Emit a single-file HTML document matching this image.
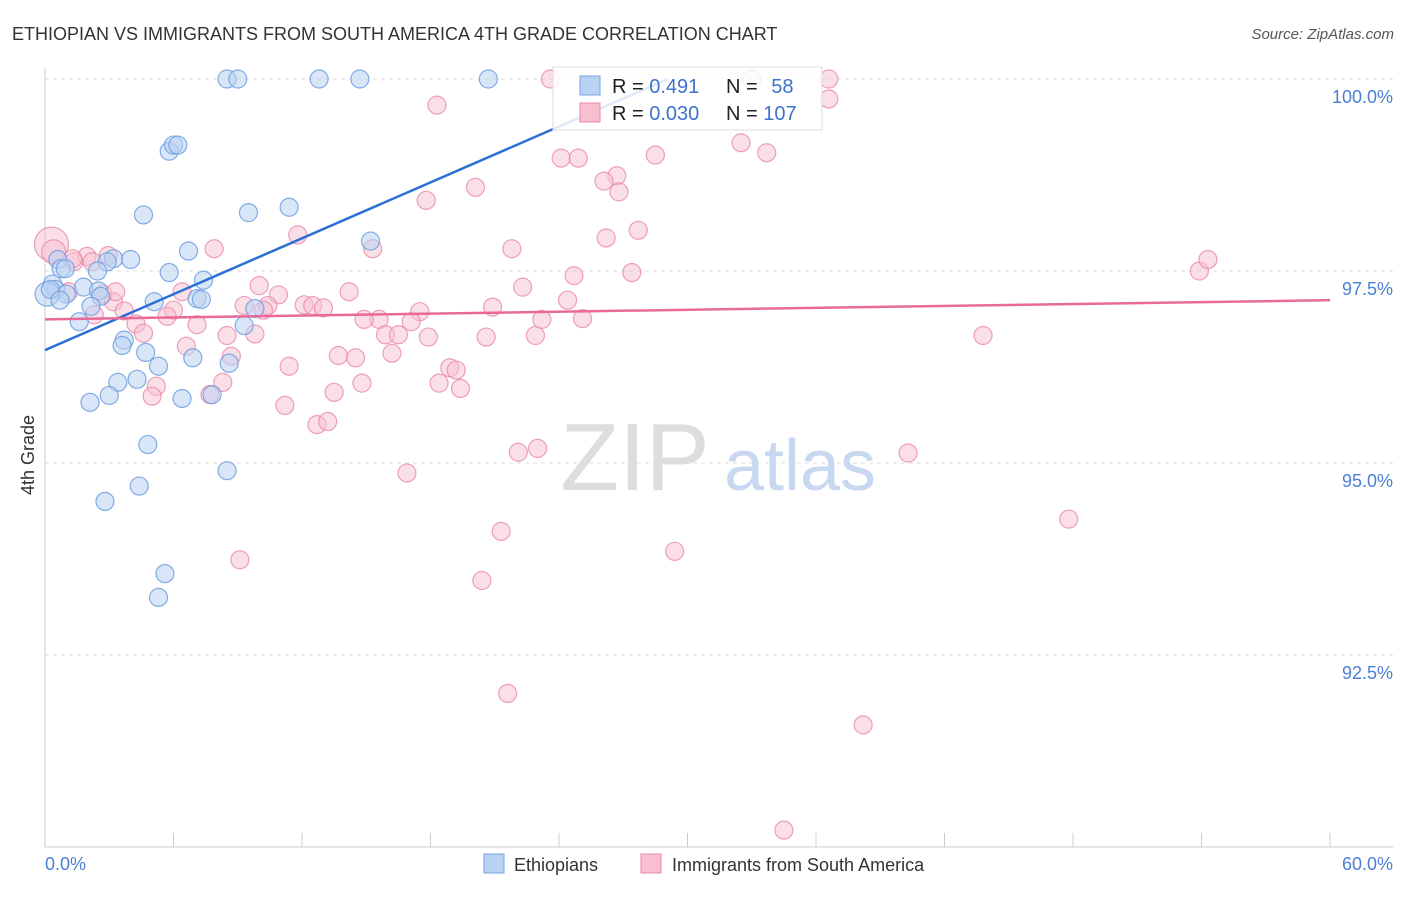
<!DOCTYPE html>
<html><head><meta charset="utf-8"><style>
body{margin:0;background:#fff;font-family:"Liberation Sans",sans-serif}
svg text{font-family:"Liberation Sans",sans-serif}
</style></head><body>
<svg id="chart" width="1406" height="892" xmlns="http://www.w3.org/2000/svg">
<text x="12" y="40" font-size="18" fill="#333">ETHIOPIAN VS IMMIGRANTS FROM SOUTH AMERICA 4TH GRADE CORRELATION CHART</text>
<text x="1394" y="39" font-size="15" fill="#555" font-style="italic" text-anchor="end">Source: ZipAtlas.com</text>
<g id="grid"></g>
<text x="635" y="490" font-size="96" fill="#ddd" font-family="Liberation Serif" text-anchor="middle">ZIP</text>
<text x="800" y="490" font-size="72" fill="#c8d8f0" text-anchor="middle">atlas</text>
<g id="pink"></g>
<g id="blue"></g>
<g id="lines"></g>
<text x="34" y="455" font-size="18" fill="#333" transform="rotate(-90 34 455)" text-anchor="middle">4th Grade</text>
<text x="45" y="870" font-size="18" fill="#4a7fd4">0.0%</text>
<text x="1393" y="870" font-size="18" fill="#4a7fd4" text-anchor="end">60.0%</text>
<g>
<rect x="553" y="67" width="269" height="63" fill="#fff" fill-opacity="0.85" stroke="#ddd"/>
<rect x="580" y="76" width="20" height="19" fill="#b9d1f3" stroke="#7aa3e0"/>
<rect x="580" y="103" width="20" height="19" fill="#f7bfd0" stroke="#e88aa8"/>
<text x="612" y="93" font-size="20" fill="#222">R = <tspan fill="#3d73cc">0.491</tspan></text>
<text x="726" y="93" font-size="20" fill="#222">N = <tspan fill="#3d73cc" dx="8">58</tspan></text>
<text x="612" y="120" font-size="20" fill="#222">R = <tspan fill="#3d73cc">0.030</tspan></text>
<text x="726" y="120" font-size="20" fill="#222">N = <tspan fill="#3d73cc">107</tspan></text>
</g>
<g>
<rect x="484" y="854" width="20" height="19" fill="#b9d1f3" stroke="#7aa3e0"/>
<text x="514" y="871" font-size="18" fill="#333">Ethiopians</text>
<rect x="641" y="854" width="20" height="19" fill="#f7bfd0" stroke="#e88aa8"/>
<text x="672" y="871" font-size="18" fill="#333">Immigrants from South America</text>
</g>
</svg>
<script>
const yTicks=[100,97.5,95,92.5];
const yTickLabels=["100.0%","97.5%","95.0%","92.5%"];
const xTicks=[0,6,12,18,24,30,36,42,48,54,60];
const blueX=[8.5,9,12.8,14.7,20.7,33,5.8,6,6.2,4.6,9.5,11.4,15.2,6.7,0.6,0.75,3.2,4,2.9,5.8,7.4,0.35,0.5,1,1.8,2.5,2.6,2.15,5.1,7.1,7.3,9.8,9.3,1.6,3.7,3.6,4.7,6.9,8.6,5.3,4.3,3.4,3.0,2.1,6.4,7.8,4.8,8.5,4.4,2.8,5.6,5.3,0.1,0.95,0.25,0.7,2.45];
const blueY=[100,100,100,100,100,100,99.06,99.14,99.14,98.23,98.26,98.33,97.89,97.76,97.65,97.53,97.66,97.65,97.62,97.48,97.38,97.33,97.26,97.2,97.29,97.24,97.17,97.04,97.1,97.14,97.13,97.01,96.79,96.84,96.6,96.53,96.44,96.37,96.3,96.26,96.09,96.05,95.88,95.79,95.84,95.89,95.24,94.9,94.7,94.5,93.56,93.25,97.2,97.53,97.26,97.12,97.5];
const pinkX=[23.6,36.6,18.3,36.6,24.1,24.9,28.5,32.5,33.7,26.7,26.1,26.8,20.1,17.8,27.7,11.8,26.2,7.9,21.8,15.3,1.96,1.35,27.4,24.7,53.9,54.3,22.3,10,14.2,6.4,10.9,3.2,2.7,2.3,10.4,9.3,12.1,12.5,13,20.9,24.4,6,5.7,7.1,3.7,4.25,4.6,10.2,9.8,8.5,17.5,17.1,15.6,14.9,15.9,16.5,17.9,20.6,22.9,23.2,25.1,6.6,8.7,13.7,14.5,16.2,11.4,18.9,19.2,8.3,5.2,5,7.7,14.8,18.4,19.4,13.5,11.2,12.7,13.2,16.9,22.1,23,40.3,43.8,47.8,21.3,29.4,9.1,20.4,21.6,38.2,34.5,0.3,0.4,1.3,2.2,2.95,1.1,3.3];
const pinkY=[100,100,99.66,99.74,98.97,98.97,99.01,99.17,99.04,98.74,98.67,98.53,98.59,98.42,98.03,97.97,97.93,97.79,97.79,97.79,97.69,97.62,97.48,97.44,97.5,97.65,97.29,97.31,97.23,97.23,97.19,97.1,97.2,96.93,97.05,97.05,97.06,97.05,97.02,97.03,97.12,96.99,96.91,96.8,96.98,96.81,96.69,96.99,96.68,96.66,96.97,96.84,96.87,96.87,96.67,96.67,96.64,96.64,96.66,96.87,96.88,96.52,96.39,96.4,96.37,96.43,96.26,96.24,96.21,96.05,96.0,95.87,95.89,96.04,96.04,95.97,95.92,95.75,95.5,95.54,94.87,95.14,95.19,95.13,96.66,94.27,94.11,93.85,93.74,93.47,92.0,91.59,90.22,97.85,97.75,97.66,97.62,97.7,97.23,97.23];
const blueTrend=[[0,96.47],[29.1,100.0]];
const pinkTrend=[[0,96.87],[60,97.12]];
const X=v=>45+v/60*1285, Y=v=>79+(100-v)*76.8;
const NS="http://www.w3.org/2000/svg";
function mk(tag,attrs,parent){const e=document.createElementNS(NS,tag);for(const k in attrs)e.setAttribute(k,attrs[k]);parent.appendChild(e);return e;}
const grid=document.getElementById('grid');
yTicks.forEach((t,i)=>{
 const l=mk('line',{x1:45,x2:1393,y1:Y(t),y2:Y(t),stroke:'#ddd','stroke-dasharray':'4 4'},grid);
 
 
 const tx=mk('text',{x:1393,y:Y(t)+24,'font-size':18,fill:'#4a7fd4','text-anchor':'end'},grid);
 tx.textContent=yTickLabels[i];
 
 
});
const ax=mk('line',{x1:45,x2:45,y1:68,y2:847,stroke:'#ccc'},grid);


const bx=mk('line',{x1:45,x2:1393,y1:847,y2:847,stroke:'#ccc'},grid);


xTicks.forEach(t=>{
 const l=mk('line',{x1:X(t),x2:X(t),y1:833,y2:847,stroke:'#ccc'},grid);
 
 
});
const pg=document.getElementById('pink');
pinkX.forEach((v,i)=>{
 const r=(i>=93&&i<95)?(i==93?17:12):9;
 const c=mk('circle',{cx:X(v),cy:Y(pinkY[i]),r:r,fill:'#f7bfd0','fill-opacity':0.5,stroke:'#e88aa8','stroke-opacity':0.8,'stroke-width':1.2},pg);
 
 
});
const bg=document.getElementById('blue');
blueX.forEach((v,i)=>{
 const r=i==52?12:9;
 const c=mk('circle',{cx:X(v),cy:Y(blueY[i]),r:r,fill:'#b9d1f3','fill-opacity':0.55,stroke:'#6f9de0','stroke-opacity':0.85,'stroke-width':1.2},bg);
 
 
});
const lg=document.getElementById('lines');
const b=mk('line',{x1:X(blueTrend[0][0]),y1:Y(blueTrend[0][1]),x2:X(blueTrend[1][0]),y2:Y(blueTrend[1][1]),stroke:'#2a6fd6','stroke-width':2.5},lg);


const p=mk('line',{x1:X(pinkTrend[0][0]),y1:Y(pinkTrend[0][1]),x2:X(pinkTrend[1][0]),y2:Y(pinkTrend[1][1]),stroke:'#e8699a','stroke-width':2.5},lg);


</script>
</body></html>
